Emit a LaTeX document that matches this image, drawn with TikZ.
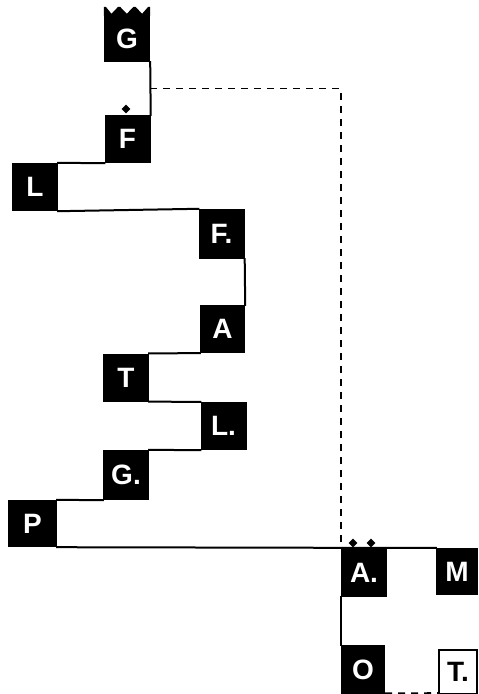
\documentclass[tikz,border=0pt]{standalone}
\usepackage{fontspec}
\setmainfont{Liberation Sans}
\usetikzlibrary{calc,shapes.geometric}
\begin{document}
\begin{tikzpicture}[x=1pt,y=-1pt,
  bx/.style={fill=black, text=white, inner sep=0pt, minimum width=46pt, minimum height=48pt,
    font=\fontsize{28}{28}\selectfont\bfseries},
  wbx/.style={draw=black, line width=2pt, fill=white, text=black, inner sep=0pt,
    font=\fontsize{28}{28}\selectfont\bfseries},
  ln/.style={line width=2pt, line cap=rect},
  dsh/.style={line width=1.6pt, dash pattern=on 7pt off 6pt},
  dia/.style={diamond, fill=black, inner sep=0pt, minimum width=9pt, minimum height=9pt}]
\useasboundingbox (0,0) rectangle (479,694);
% boxes
\node[bx, minimum height=47pt] (G) at (127,38.5) {G};
\node[bx] (F) at (127.5,139) {F};
\node[bx] (L) at (35,187) {L};
\node[bx, minimum height=50pt] (Fd) at (221.5,234) {F.};
\node[bx, minimum width=45pt] (A) at (222.5,329) {A};
\node[bx] (T) at (126,377.5) {T};
\node[bx] (Ld) at (223.5,426) {L.};
\node[bx, minimum height=50pt] (Gd) at (126,475) {G.};
\node[bx, minimum width=49pt, minimum height=47pt] (P) at (32.5,523.5) {P};
\node[bx, minimum height=49pt] (Ad) at (364,572.5) {A.};
\node[bx, minimum width=42pt, minimum height=47pt] (M) at (457,571.5) {M};
\node[bx, minimum width=44pt, minimum height=50pt] (O) at (363,670) {O};
\node[wbx, minimum width=38pt, minimum height=44pt] (Td) at (458,672) {T.};
% crown on G
\fill ($(G.north west)+(0,1)$) -- ($(G.north west)+(0,-8)$) -- ($(G.north west)+(2,-8)$) -- ($(G.north west)+(7.7,-1)$)
  -- ($(G.north west)+(14.3,-8)$) -- ($(G.north west)+(16.3,-8)$) -- ($(G.north west)+(23,-1)$)
  -- ($(G.north west)+(29.7,-8)$) -- ($(G.north west)+(31.7,-8)$) -- ($(G.north west)+(38.3,-1)$)
  -- ($(G.north east)+(-2,-8)$) -- ($(G.north east)+(0,-8)$) -- ($(G.north east)+(0,1)$) -- cycle;
% diamonds
\node[dia] (dF) at (126,109) {};
\node[dia] (dA1) at (353,543) {};
\node[dia] (dA2) at (371,543) {};
% connectors
\draw[ln] (G.south east) -- (F.north east);
\coordinate (d0) at ($(G.south east)!0.5!(F.north east)$);
\draw[dsh] (d0) -| (Ad.north west);
\draw[ln] (L.north east) -- (F.south west);
\draw[ln] (L.south east) -- (Fd.north west);
\draw[ln] (Fd.south east) -- (A.north east);
\draw[ln] (A.south west) -- (T.north east);
\draw[ln] (T.south east) -- (Ld.north west);
\draw[ln] (Ld.south west) -- (Gd.north east);
\draw[ln] (Gd.south west) -- (P.north east);
\draw[ln] (P.south east) -- (Ad.north west) -- (M.north west);
\draw[ln] (Ad.south west) -- (O.north west);
\draw[dsh] ([yshift=2pt]O.south east) -- ([yshift=2pt]Td.south west);
\end{tikzpicture}
\end{document}
